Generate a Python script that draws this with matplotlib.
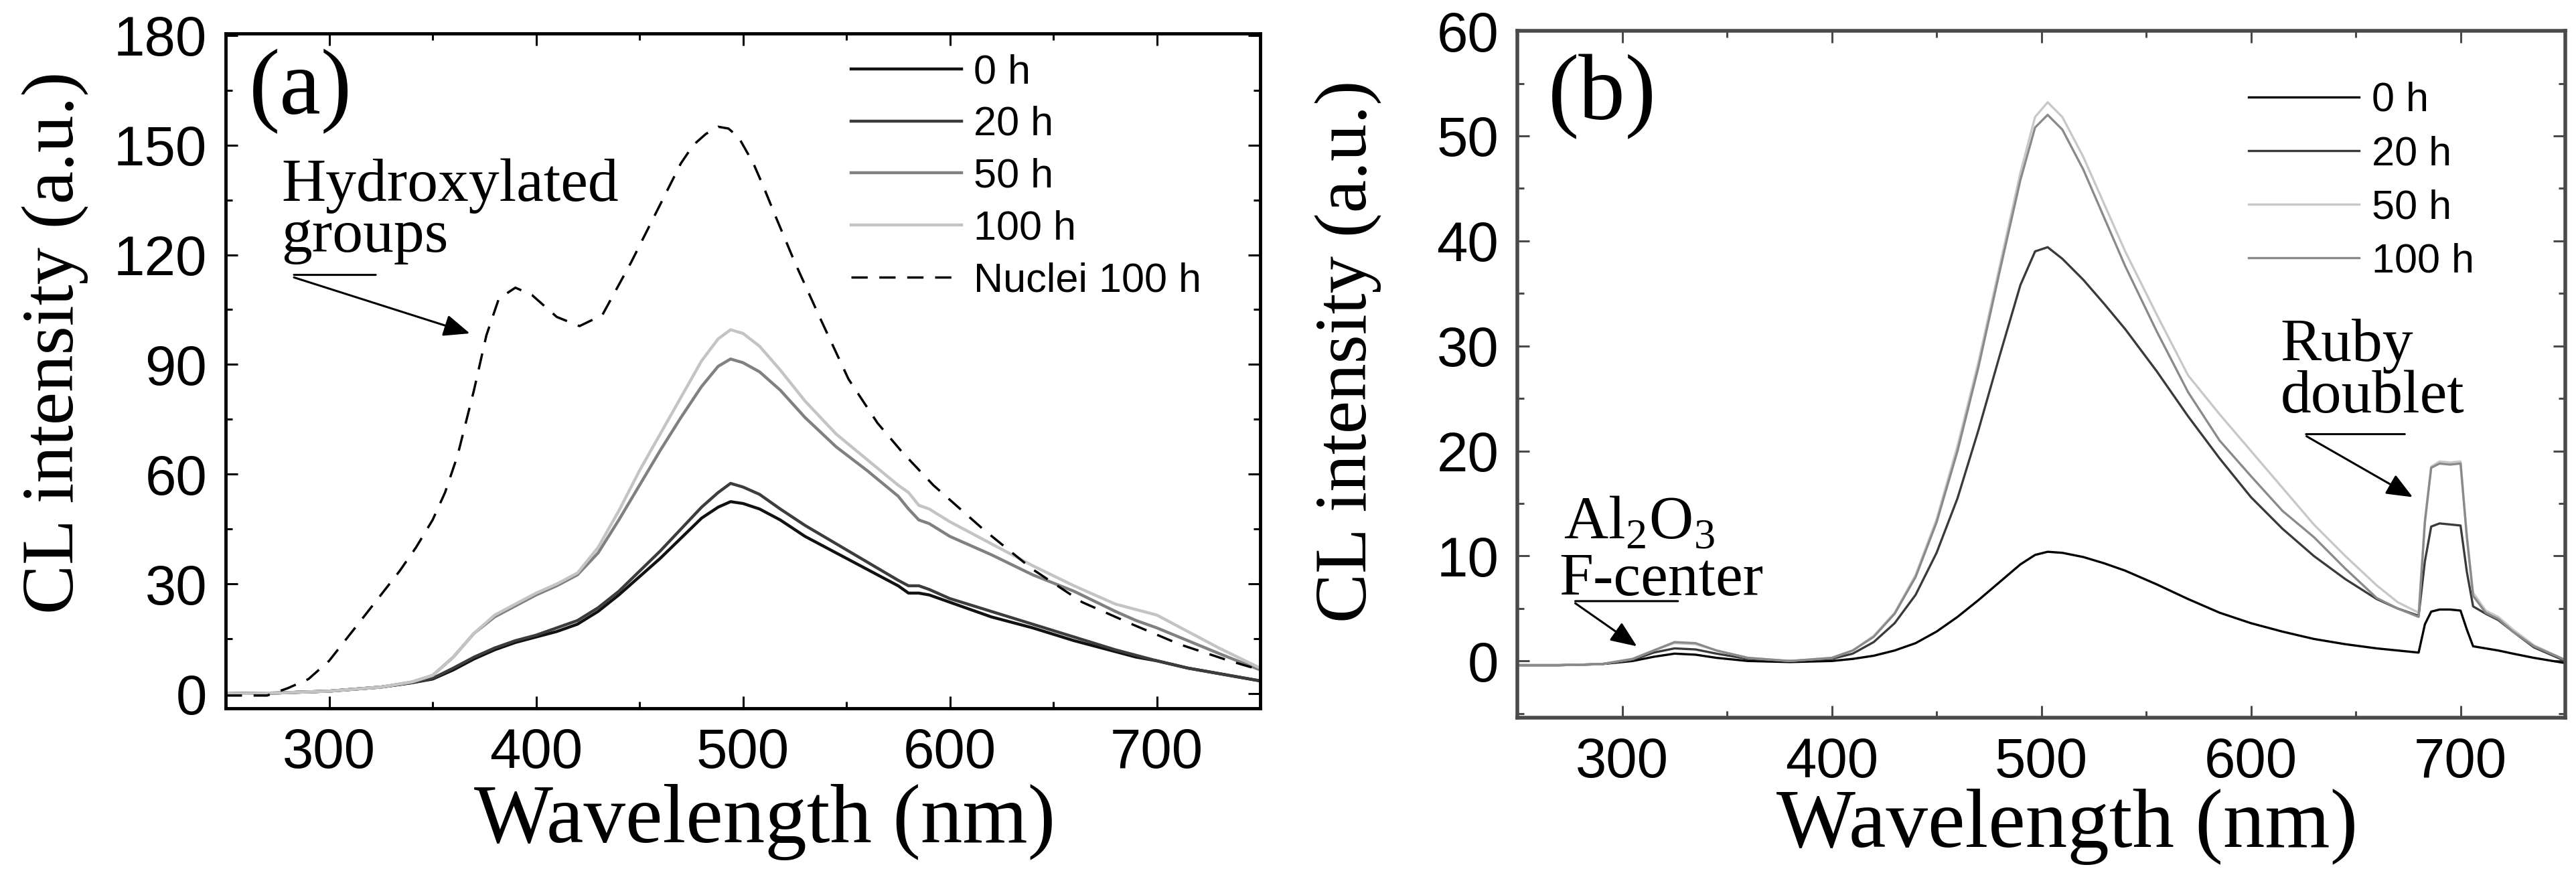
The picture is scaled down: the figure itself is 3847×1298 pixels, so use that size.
import numpy as np
import matplotlib
matplotlib.use("Agg")
import matplotlib.pyplot as plt
from matplotlib.ticker import MultipleLocator

plt.rcParams["mathtext.fontset"] = "custom"
plt.rcParams["mathtext.rm"] = "Liberation Serif"

# ---- panel (a) data ----
wl_a = [250, 275, 300, 325, 340, 350, 360, 370, 380, 390, 400, 410, 420, 430, 440,
        450, 460, 470, 480, 488, 494, 500, 508, 518, 530, 545, 560, 575, 580, 585,
        590, 600, 620, 640, 660, 680, 690, 700, 715, 730, 750]
a_0h = [0, 0.2, 0.7, 1.8, 3.0, 4.0, 6.5, 9.5, 12, 14, 15.5, 17, 19, 22.5, 27,
        32, 37, 42.5, 48, 51, 52.5, 52, 50.5, 47.5, 43, 38.5, 34, 29.5, 27.5, 27.5,
        27, 25, 21, 18, 14.5, 11.5, 10, 9, 7, 5.5, 3.5]
a_20h = [0, 0.2, 0.7, 1.8, 3.0, 4.2, 7, 10, 12.5, 14.5, 16, 18, 20, 23.5, 28,
         33.5, 39, 45, 51, 55, 57.5, 56.5, 54.5, 50.5, 46, 41, 36, 31, 29.5, 29.5,
         28.5, 26, 22.5, 19, 15.5, 12, 10.5, 9, 7, 5.5, 3.5]
a_50h = [0, 0.2, 0.7, 1.8, 3.2, 5.0, 10, 16.5, 21, 24, 27, 29.5, 32.5, 38.5, 47.5,
         57, 66.5, 75.5, 84, 89.5, 91.5, 90.5, 88, 83, 75.5, 67.5, 61, 54, 50.5, 47.5,
         46.5, 43, 38, 32.5, 28, 22.5, 20, 18, 14.5, 11, 6.5]
a_100h = [0, 0.2, 0.7, 1.8, 3.2, 5.0, 10, 16.5, 21.5, 24.5, 27.5, 30, 33, 40, 50,
          61, 71, 81, 91, 97, 99.5, 98.5, 95, 88.5, 80, 71, 64, 57, 55, 51.5,
          50.5, 47, 41, 35, 29.5, 24.5, 23, 21.5, 17, 12.5, 7]
wl_nuc = [250, 270, 280, 290, 300, 316, 334, 342, 350, 356, 362, 370, 376, 382, 390,
          398, 410, 421, 432, 446, 458, 470, 476, 482, 488, 493, 498, 505, 510, 515,
          525, 537, 551, 565, 577, 592, 616, 640, 664, 688, 711, 735, 750]
a_nuc = [-0.5, -0.5, 1.5, 4, 9, 20.5, 33.5, 40, 47.5, 55, 65, 83, 98, 108, 111,
         109, 103, 100.5, 103.5, 118, 131.5, 145, 150, 153, 155, 154.5, 152, 145, 138.5, 131.5,
         118, 103, 86, 74, 66, 57, 45, 34, 25, 19, 13.5, 9, 6.5]

# ---- panel (b) data ----
wl_b = [250, 270, 290, 305, 315, 325, 335, 345, 360, 380, 400, 410, 420, 430, 440,
        450, 460, 470, 480, 490, 497, 503, 510, 520, 530, 540, 555, 570, 585, 600,
        615, 630, 645, 660, 670, 680, 683, 686, 690, 695, 700, 703, 706, 712, 718,
        725, 735, 750]
b_0h = [-0.4, -0.4, -0.3, 0.0, 0.4, 0.7, 0.6, 0.3, 0.0, -0.1, 0.0, 0.2, 0.5, 1.0, 1.7,
        2.8, 4.2, 5.8, 7.5, 9.2, 10.1, 10.4, 10.3, 9.9, 9.3, 8.6, 7.3, 5.9, 4.6, 3.6,
        2.8, 2.1, 1.6, 1.2, 1.0, 0.8, 3.5, 4.7, 4.9, 4.9, 4.8, 3.0, 1.4, 1.2, 1.0,
        0.7, 0.3, -0.2]
b_20h = [-0.4, -0.4, -0.3, 0.1, 0.8, 1.2, 1.1, 0.7, 0.2, 0.0, 0.2, 0.7, 1.8, 3.6, 6.3,
         10.3, 15.5, 22.0, 29.0, 35.8, 39.0, 39.4, 38.3, 36.3, 34.0, 31.6, 27.6, 23.3, 19.3, 15.6,
         12.6, 10.0, 7.8, 5.9, 5.0, 4.3, 9.5, 12.8, 13.1, 13.0, 12.9, 8.5, 5.2, 4.5, 3.9,
         2.8, 1.3, 0.0]
b_50h = [-0.4, -0.4, -0.3, 0.2, 1.0, 1.7, 1.6, 1.0, 0.3, 0.0, 0.3, 1.0, 2.4, 4.6, 8.2,
         13.5, 20.5, 28.5, 37.5, 46.5, 51.8, 53.2, 51.8, 48.0, 43.5, 39.0, 33.0, 27.2, 23.5, 20.0,
         16.5, 13.0, 10.0, 7.2, 5.6, 4.6, 13.5, 18.5, 19.0, 18.9, 19.0, 12.0, 6.5, 4.8, 4.2,
         3.0, 1.5, 0.1]
b_100h = [-0.4, -0.4, -0.3, 0.2, 1.0, 1.8, 1.7, 1.0, 0.3, 0.0, 0.3, 1.0, 2.3, 4.5, 8.0,
          13.2, 20.0, 28.0, 37.0, 45.8, 50.8, 52.0, 50.6, 46.8, 42.2, 37.6, 31.4, 25.6, 21.0, 17.6,
          14.3, 11.8, 8.8, 6.0, 5.0, 4.2, 13.2, 18.4, 18.8, 18.7, 18.8, 11.8, 6.2, 4.6, 4.0,
          2.8, 1.4, 0.1]

labels_a = ["0 h", "20 h", "50 h", "100 h", "Nuclei 100 h"]
labels_b = ["0 h", "20 h", "50 h", "100 h"]

sans = "Liberation Sans"
serif = "Liberation Serif"

fig = plt.figure(figsize=(38.48, 12.98), dpi=100)
ax1 = fig.add_axes([0.0876, 0.1849, 0.4015, 0.7766])
ax2 = fig.add_axes([0.5889, 0.1741, 0.4067, 0.7904])


def style_axes(ax, spine_col, spine_w):
    for s in ax.spines.values():
        s.set_color(spine_col)
        s.set_linewidth(spine_w)
    ax.tick_params(which="both", direction="in", top=True, right=True, colors=spine_col,
                   labelcolor="black")
    ax.tick_params(which="major", length=13, width=2.2, labelsize=60, pad=20)
    ax.tick_params(which="minor", length=7, width=2.2)
    for lab in ax.get_xticklabels() + ax.get_yticklabels():
        lab.set_fontfamily(sans)


# panel (a)
lw_a = 3.2
ax1.plot(wl_a, a_0h, color="#111111", lw=lw_a, label=labels_a[0])
ax1.plot(wl_a, a_20h, color="#3c3c3c", lw=lw_a, label=labels_a[1])
ax1.plot(wl_a, a_50h, color="#808080", lw=lw_a, label=labels_a[2])
ax1.plot(wl_a, a_100h, color="#c4c4c4", lw=lw_a, label=labels_a[3])
ax1.plot(wl_nuc, a_nuc, color="black", lw=2.5, dashes=(7, 5), label=labels_a[4])
ax1.set_xlim(250, 750)
ax1.set_ylim(-4, 180.5)
ax1.xaxis.set_major_locator(MultipleLocator(100))
ax1.xaxis.set_minor_locator(MultipleLocator(50))
ax1.yaxis.set_major_locator(MultipleLocator(30))
ax1.yaxis.set_minor_locator(MultipleLocator(15))
style_axes(ax1, "black", 3.5)

ax1.set_xlabel("Wavelength (nm)", fontsize=90, family=serif)
ax1.set_ylabel("CL intensity (a.u.)", fontsize=80, family=serif)
ax1.xaxis.set_label_coords(0.521, -0.112)
ax1.yaxis.set_label_coords(-0.132, 0.5417)

ax1.legend(loc="upper left", bbox_to_anchor=(0.6045, 0.970), frameon=False,
           prop={"family": sans, "size": 44}, handlelength=2.7, handletextpad=0.3,
           labelspacing=0.34, borderaxespad=0, borderpad=0)

ax1.text(0.0227, 0.9137, "(a)", transform=ax1.transAxes, fontsize=100, family=serif,
         ha="left", va="center")
ax1.text(277, 146.3, "Hydroxylated\ngroups", fontsize=66, family=serif,
         ha="left", va="top", linespacing=0.9)
ax1.annotate("", xy=(322.5, 114.5), xytext=(283, 114.5),
             arrowprops=dict(arrowstyle="-", color="black", lw=2.2, shrinkA=0, shrinkB=0))
ax1.annotate("", xy=(368, 98.5), xytext=(283, 113.8),
             arrowprops=dict(arrowstyle="-|>,head_length=0.6,head_width=0.25",
                             mutation_scale=40, color="black", lw=2.2,
                             shrinkA=0, shrinkB=0))

# panel (b)
lw_b = 2.4
ax2.plot(wl_b, b_0h, color="black", lw=lw_b, label=labels_b[0])
ax2.plot(wl_b, b_20h, color="#3a3a3a", lw=lw_b, label=labels_b[1])
ax2.plot(wl_b, b_50h, color="#c8c8c8", lw=lw_b, label=labels_b[2])
ax2.plot(wl_b, b_100h, color="#8a8a8a", lw=lw_b, label=labels_b[3])
ax2.set_xlim(250, 750)
ax2.set_ylim(-5.4, 60)
ax2.xaxis.set_major_locator(MultipleLocator(100))
ax2.xaxis.set_minor_locator(MultipleLocator(50))
ax2.yaxis.set_major_locator(MultipleLocator(10))
ax2.yaxis.set_minor_locator(MultipleLocator(5))
ax2.set_yticks([0, 10, 20, 30, 40, 50, 60])
style_axes(ax2, "#4a4a4a", 4)

ax2.set_xlabel("Wavelength (nm)", fontsize=90, family=serif)
ax2.set_ylabel("CL intensity (a.u.)", fontsize=80, family=serif)
ax2.xaxis.set_label_coords(0.5246, -0.103)
ax2.yaxis.set_label_coords(-0.129, 0.533)

ax2.legend(loc="upper left", bbox_to_anchor=(0.698, 0.926), frameon=False,
           prop={"family": sans, "size": 44}, handlelength=2.7, handletextpad=0.3,
           labelspacing=0.38, borderaxespad=0, borderpad=0)

ax2.text(0.0294, 0.9045, "(b)", transform=ax2.transAxes, fontsize=100, family=serif,
         ha="left", va="center")
ax2.text(272, 15.8, r"Al$_{\mathrm{2}}$O$_{\mathrm{3}}$", fontsize=66, family=serif,
         ha="left", va="top")
ax2.text(270, 10.3, "F-center", fontsize=66, family=serif, ha="left", va="top")
ax2.annotate("", xy=(326.6, 5.7), xytext=(277.6, 5.7),
             arrowprops=dict(arrowstyle="-", color="black", lw=2.2, shrinkA=0, shrinkB=0))
ax2.annotate("", xy=(307, 1.4), xytext=(277.6, 5.5),
             arrowprops=dict(arrowstyle="-|>,head_length=0.6,head_width=0.25",
                             mutation_scale=40, color="black", lw=2.2,
                             shrinkA=0, shrinkB=0))
ax2.text(614, 32.6, "Ruby\ndoublet", fontsize=66, family=serif,
         ha="left", va="top", linespacing=0.9)
ax2.annotate("", xy=(673.4, 21.6), xytext=(626.3, 21.6),
             arrowprops=dict(arrowstyle="-", color="black", lw=2.2, shrinkA=0, shrinkB=0))
ax2.annotate("", xy=(677.2, 15.6), xytext=(626.5, 21.4),
             arrowprops=dict(arrowstyle="-|>,head_length=0.6,head_width=0.25",
                             mutation_scale=40, color="black", lw=2.2,
                             shrinkA=0, shrinkB=0))

fig.savefig("out.png", dpi=100)
